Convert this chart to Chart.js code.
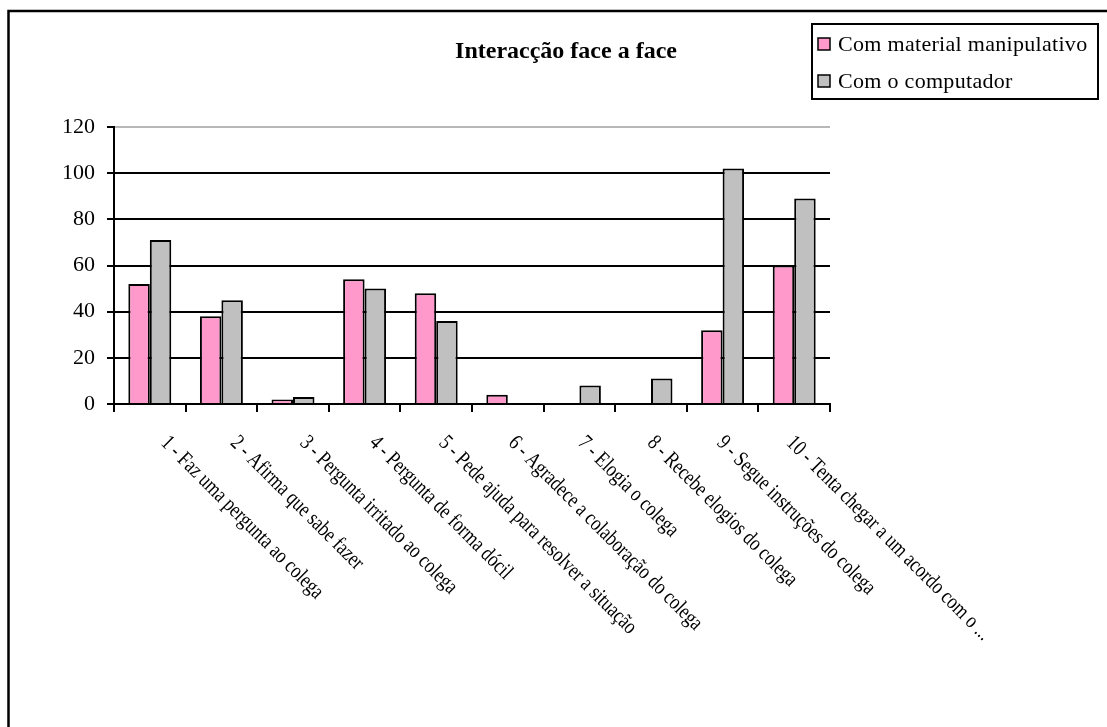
<!DOCTYPE html>
<html>
<head>
<meta charset="utf-8">
<title>Interacção face a face</title>
<script src="https://cdn.jsdelivr.net/npm/chart.js@4.4.1/dist/chart.umd.min.js"></script>
<style>
  html, body { margin: 0; padding: 0; background: #fff; }
  #wrap { position: relative; width: 1107px; height: 727px; }
</style>
</head>
<body>
<div id="wrap"><canvas id="chart"></canvas></div>
<script>
// Categories (behaviours observed) and the two counted series
const categories = [
  '1 - Faz uma pergunta ao colega',
  '2 - Afirma que sabe fazer',
  '3 - Pergunta irritado ao colega',
  '4 - Pergunta de forma dócil',
  '5 - Pede ajuda para resolver a situação',
  '6 - Agradece a colaboração do colega',
  '7 - Elogia o colega',
  '8 - Recebe elogios do colega',
  '9 - Segue instruções do colega',
  '10 - Tenta chegar a um acordo com o ...'
];
const seriesNames = ['Com material manipulativo', 'Com o computador'];
const materialValues = [52, 38, 2, 54, 48, 4, 0, 0, 32, 60];
const computerValues = [71, 45, 3, 50, 36, 0, 8, 11, 102, 89];
const yMin = 0;
const yMax = 120;
const yStep = 20;
const chartTitle = 'Interacção face a face';

const serif = '"Liberation Serif", "Times New Roman", serif';
const pink = '#ff99cc';
const grey = '#c0c0c0';

// Frame, title, boxed legend and slanted category labels
const decorations = {
  id: 'decorations',
  beforeDraw(chart) {
    const ctx = chart.ctx;
    ctx.save();
    ctx.fillStyle = '#fff';
    ctx.fillRect(0, 0, chart.width, chart.height);
    ctx.restore();
  },
  afterDraw(chart) {
    const ctx = chart.ctx;
    ctx.save();

    // outer frame (runs off the right and bottom of the canvas)
    ctx.strokeStyle = '#000';
    ctx.lineWidth = 2.5;
    ctx.strokeRect(8.5, 11, 1300, 900);

    // title
    ctx.fillStyle = '#000';
    ctx.font = 'bold 24px ' + serif;
    ctx.textAlign = 'center';
    ctx.textBaseline = 'alphabetic';
    ctx.fillText(chartTitle, 566, 58);

    // legend
    ctx.lineWidth = 2;
    ctx.strokeRect(812, 24, 286, 75);
    ctx.font = '22px ' + serif;
    ctx.textAlign = 'left';
    ctx.textBaseline = 'middle';
    ctx.letterSpacing = '0.3px';
    chart.data.datasets.forEach((ds, i) => {
      const cy = 44 + i * 37;
      ctx.fillStyle = ds.backgroundColor;
      ctx.fillRect(818, cy - 6, 12, 12);
      ctx.lineWidth = 1.5;
      ctx.strokeStyle = '#000';
      ctx.strokeRect(818, cy - 6, 12, 12);
      ctx.fillStyle = '#000';
      ctx.fillText(ds.label, 838, cy + 1);
    });
    ctx.letterSpacing = '0px';

    // category labels, rotated 45 degrees downwards and condensed;
    // they sit on a slightly tighter pitch than the bar groups
    const xScale = chart.scales.x;
    ctx.font = '22px ' + serif;
    ctx.textAlign = 'left';
    ctx.textBaseline = 'top';
    ctx.fillStyle = '#000';
    chart.data.labels.forEach((label, i) => {
      const x = xScale.getPixelForValue(i) + 22 - 2.1 * i;
      const y = xScale.top + 28;
      ctx.save();
      ctx.translate(x, y);
      ctx.rotate(Math.PI / 4);
      ctx.scale(0.8, 1);
      ctx.fillText(label, 0, 0);
      ctx.restore();
    });

    ctx.restore();
  }
};

const ctx = document.getElementById('chart').getContext('2d');
new Chart(ctx, {
  type: 'bar',
  data: {
    labels: categories,
    datasets: [
      {
        label: seriesNames[0],
        data: materialValues,
        backgroundColor: pink,
        borderColor: '#000',
        borderWidth: 2,
        borderSkipped: 'bottom'
      },
      {
        label: seriesNames[1],
        data: computerValues,
        backgroundColor: grey,
        borderColor: '#000',
        borderWidth: 2,
        borderSkipped: 'bottom'
      }
    ]
  },
  options: {
    responsive: true,
    maintainAspectRatio: false,
    animation: false,
    layout: {
      padding: { left: 50, right: 277, top: 127, bottom: 315 }
    },
    datasets: {
      bar: { categoryPercentage: 0.6, barPercentage: 1.0 }
    },
    plugins: {
      legend: { display: false },
      title: { display: false },
      tooltip: { enabled: false }
    },
    scales: {
      x: {
        grid: {
          offset: true,
          drawOnChartArea: false,
          drawTicks: true,
          tickLength: 8,
          color: '#000',
          lineWidth: 2
        },
        border: { color: '#000', width: 2 },
        ticks: { display: false }
      },
      y: {
        min: yMin,
        max: yMax,
        ticks: {
          stepSize: yStep,
          color: '#000',
          padding: 12,
          font: { family: serif, size: 22 }
        },
        grid: {
          color: (c) => (c.tick && c.tick.value === yMax ? '#b8b8b8' : '#000'),
          lineWidth: 2,
          tickLength: 7,
          tickColor: '#000'
        },
        border: { color: '#000', width: 2 }
      }
    }
  },
  plugins: [decorations]
});
</script>
</body>
</html>
